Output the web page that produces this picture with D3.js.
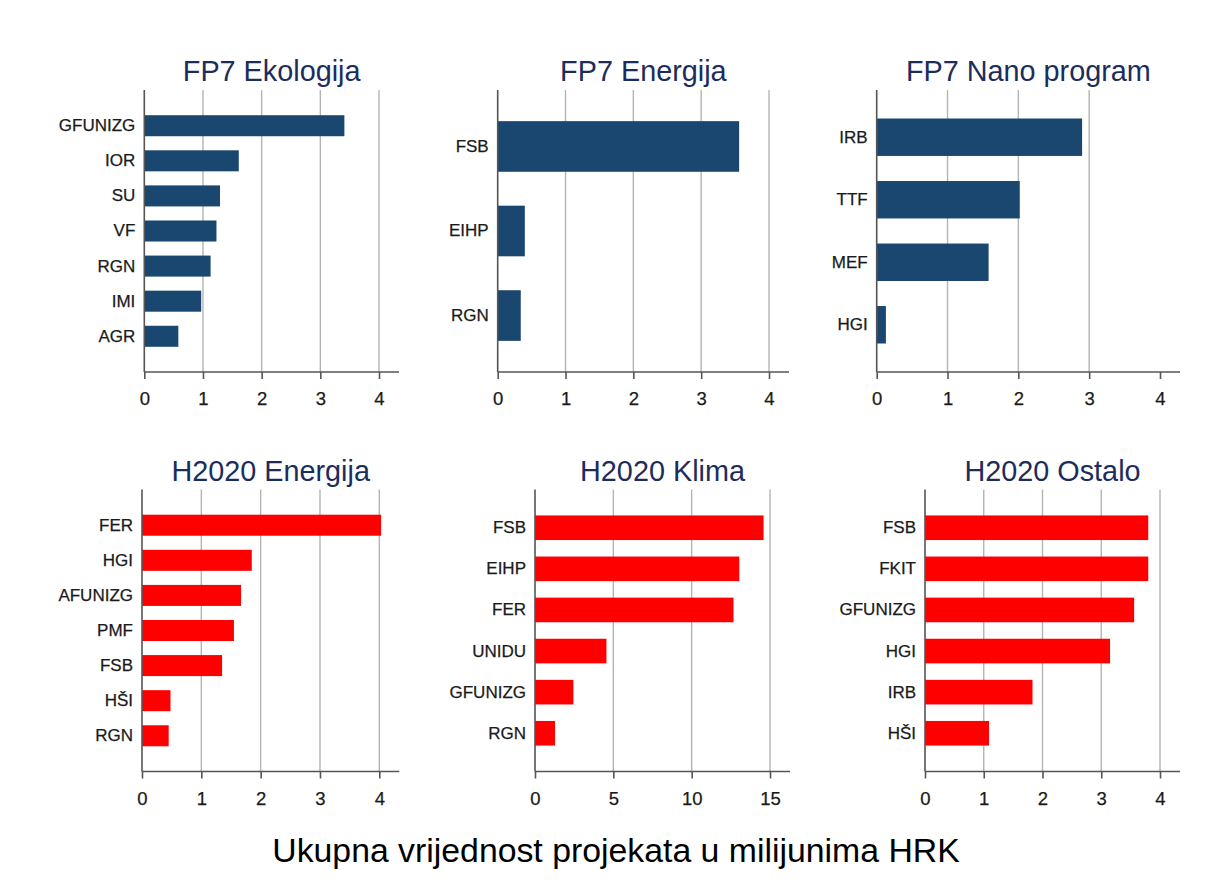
<!DOCTYPE html>
<html>
<head>
<meta charset="utf-8">
<script src="https://cdn.jsdelivr.net/npm/d3@7"></script>
<style>
  html, body { margin: 0; padding: 0; background: #fff; }
  svg { display: block; }
  text { font-family: "Liberation Sans", Arial, sans-serif; }
</style>
</head>
<body>
<svg id="chart" width="1209" height="884"></svg>
<script>
// ---- data ----
const panelTitles = ["FP7 Ekologija", "FP7 Energija", "FP7 Nano program",
                     "H2020 Energija", "H2020 Klima", "H2020 Ostalo"];

const fp7EkoCats = ["GFUNIZG", "IOR", "SU", "VF", "RGN", "IMI", "AGR"];
const fp7EkoVals = [3.41, 1.61, 1.29, 1.23, 1.13, 0.97, 0.58];

const fp7EneCats = ["FSB", "EIHP", "RGN"];
const fp7EneVals = [3.56, 0.40, 0.34];

const fp7NanoCats = ["IRB", "TTF", "MEF", "HGI"];
const fp7NanoVals = [2.90, 2.02, 1.58, 0.13];

const h2020EneCats = ["FER", "HGI", "AFUNIZG", "PMF", "FSB", "HŠI", "RGN"];
const h2020EneVals = [4.03, 1.85, 1.67, 1.55, 1.35, 0.48, 0.45];

const h2020KlimaCats = ["FSB", "EIHP", "FER", "UNIDU", "GFUNIZG", "RGN"];
const h2020KlimaVals = [14.59, 13.04, 12.67, 4.56, 2.45, 1.28];

const h2020OstaloCats = ["FSB", "FKIT", "GFUNIZG", "HGI", "IRB", "HŠI"];
const h2020OstaloVals = [3.80, 3.80, 3.56, 3.15, 1.83, 1.09];

const ticks0to4 = [0, 1, 2, 3, 4];
const ticks0to15 = [0, 5, 10, 15];
const gridNano = [1, 2, 3];          // no gridline at 4 in this panel
const grid0to4 = [1, 2, 3, 4];
const grid0to15 = [5, 10, 15];

const xAxisTitle = "Ukupna vrijednost projekata u milijunima HRK";

// ---- layout (panel frames) ----
const navy = "#1a476f", red = "#ff0000";
const rows = [{ top: 90, axis: 372, titleY: 81 }, { top: 489.5, axis: 771.5, titleY: 480.5 }];

const panels = [
  { cats: fp7EkoCats, vals: fp7EkoVals, ticks: ticks0to4, grid: grid0to4, max: 4, left: 144.3, right: 399, row: 0, color: navy },
  { cats: fp7EneCats, vals: fp7EneVals, ticks: ticks0to4, grid: grid0to4, max: 4, left: 497.7, right: 789, row: 0, color: navy },
  { cats: fp7NanoCats, vals: fp7NanoVals, ticks: ticks0to4, grid: gridNano, max: 4, left: 876.7, right: 1180, row: 0, color: navy },
  { cats: h2020EneCats, vals: h2020EneVals, ticks: ticks0to4, grid: grid0to4, max: 4, left: 142, right: 399.3, row: 1, color: red },
  { cats: h2020KlimaCats, vals: h2020KlimaVals, ticks: ticks0to15, grid: grid0to15, max: 15, left: 535, right: 790, row: 1, color: red },
  { cats: h2020OstaloCats, vals: h2020OstaloVals, ticks: ticks0to4, grid: grid0to4, max: 4, left: 925, right: 1180, row: 1, color: red }
];

const svg = d3.select("#chart");
const FONT = "'Liberation Sans', Arial, sans-serif";

panels.forEach((p, i) => {
  const r = rows[p.row];
  const g = svg.append("g");
  const x = d3.scaleLinear().domain([0, p.max]).range([p.left, p.right - 20]);
  const y = d3.scaleBand().domain(p.cats)
    .range([r.top + 21, r.axis - 21])
    .paddingInner(0.401).paddingOuter(0.12);

  // gridlines
  g.selectAll("line.grid").data(p.grid).join("line")
    .attr("x1", d => x(d)).attr("x2", d => x(d))
    .attr("y1", r.top).attr("y2", r.axis)
    .attr("stroke", "#b4b4b4").attr("stroke-width", 1.4);

  // bars
  const data = p.cats.map((c, k) => ({ c, v: p.vals[k] }));
  g.selectAll("rect.bar").data(data).join("rect")
    .attr("x", x(0)).attr("y", d => y(d.c))
    .attr("width", d => x(d.v) - x(0)).attr("height", y.bandwidth())
    .attr("fill", p.color);

  // value axis (bottom)
  const xAxis = d3.axisBottom(x).tickValues(p.ticks).tickSize(7).tickPadding(13)
    .tickFormat(d3.format("d"));
  const ax = g.append("g").attr("transform", `translate(0,${r.axis})`).call(xAxis);
  ax.attr("font-size", null).attr("font-family", null);
  ax.select(".domain").attr("d", `M${x(0)},0H${p.right}`)
    .attr("stroke", "#555").attr("stroke-width", 1.6);
  ax.selectAll(".tick line").attr("stroke", "#555").attr("stroke-width", 1.6);
  ax.selectAll(".tick text").style("font-size", "18.5px").attr("fill", "#1a1a1a")
    .style("font-family", FONT)
    .attr("stroke", "#1a1a1a").attr("stroke-width", 0.25);

  // category axis (left)
  const yAxis = d3.axisLeft(y).tickSize(0).tickPadding(9);
  const ay = g.append("g").attr("transform", `translate(${x(0)},0)`).call(yAxis);
  ay.attr("font-size", null).attr("font-family", null);
  ay.select(".domain").attr("d", `M0,${r.top}V${r.axis}`)
    .attr("stroke", "#555").attr("stroke-width", 1.6);
  ay.selectAll(".tick text").style("font-size", "17px").attr("fill", "#1a1a1a")
    .style("font-family", FONT)
    .attr("stroke", "#1a1a1a").attr("stroke-width", 0.25);

  // panel title
  g.append("text")
    .attr("x", (p.left + p.right) / 2).attr("y", r.titleY)
    .attr("text-anchor", "middle").style("font-size", "28.8px")
    .attr("fill", "#1c2d5c")
    .text(panelTitles[i]);
});

// overall x-axis title
svg.append("text")
  .attr("x", 616).attr("y", 862)
  .attr("text-anchor", "middle").style("font-size", "33.8px")
  .attr("fill", "#000")
  .text(xAxisTitle);
</script>
</body>
</html>
